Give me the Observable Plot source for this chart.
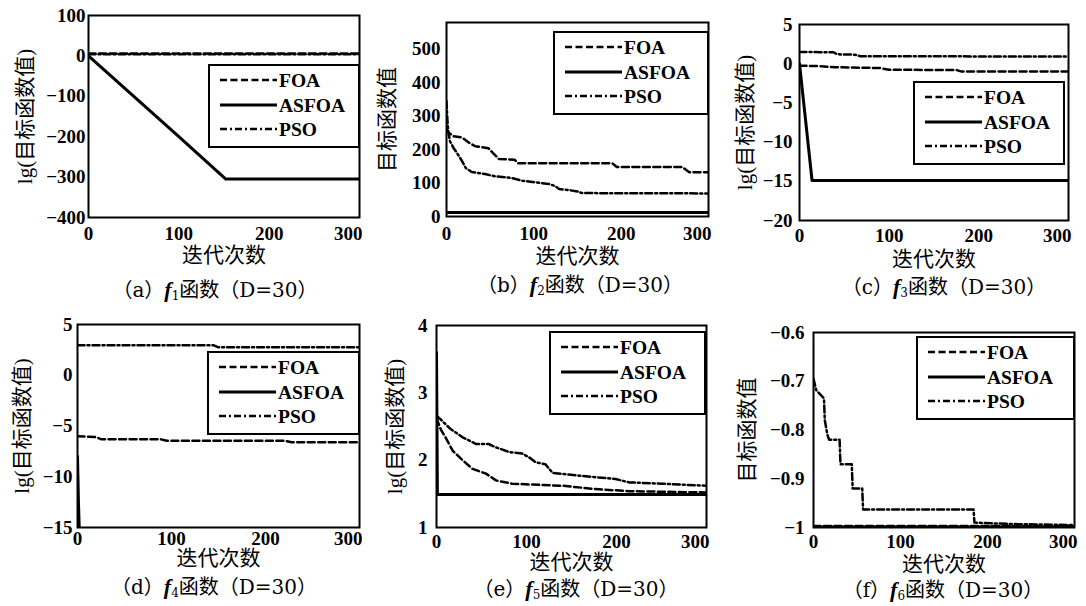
<!DOCTYPE html>
<html><head><meta charset="utf-8">
<script src="https://cdn.jsdelivr.net/npm/d3@7"></script>
<script src="https://cdn.jsdelivr.net/npm/@observablehq/plot@0.6"></script>
<style>
body{margin:0;background:#fff;}
#root{position:relative;width:1086px;height:606px;background:#fff;overflow:hidden;}
.panel{position:absolute;}
.cap{position:absolute;transform:translate(-50%,-50%);white-space:nowrap;font-family:"DejaVu Serif","Noto Sans CJK SC",serif;font-size:20px;color:#000;line-height:1;}
.cap i{font-family:"Liberation Serif",serif;font-style:italic;font-weight:bold;font-size:22px;}
.cap sub{font-size:12px;vertical-align:-3px;line-height:0;}
</style></head><body><div id="root"></div><script>
// ---- data (iteration, value) ----
const seriesNames = ["FOA", "ASFOA", "PSO"];
const iterTicks = [0, 100, 200];
const iterLastTick = [300];

const f1Ticks = [100, 0, -100, -200, -300, -400];
const f1_FOA = [[0, 6], [300, 6]];
const f1_ASFOA = [[0, 0], [100, -200], [152, -305], [300, -305]];
const f1_PSO = [[0, 4], [300, 4]];

const f2Ticks = [0, 100, 200, 300, 400, 500];
const f2_FOA = [[0, 262], [3, 250], [8, 240], [18, 236], [25, 222], [33, 210], [48, 204], [55, 185], [60, 172], [78, 170], [82, 159], [190, 159], [195, 148], [270, 148], [278, 132], [300, 132]];
const f2_ASFOA = [[0, 12], [300, 12]];
const f2_PSO = [[0, 345], [1, 290], [2, 255], [4, 225], [8, 205], [12, 190], [18, 165], [22, 145], [29, 133], [44, 127], [56, 120], [75, 115], [87, 107], [102, 102], [118, 97], [125, 90], [129, 82], [140, 79], [150, 75], [155, 70], [300, 69]];

const f3Ticks = [5, 0, -5, -10, -15, -20];
const f3_FOA = [[0, -0.25], [20, -0.3], [40, -0.45], [90, -0.55], [100, -0.78], [175, -0.8], [180, -0.98], [300, -1.0]];
const f3_ASFOA = [[0, 0], [14, -14.9], [300, -14.9]];
const f3_PSO = [[0, 1.5], [38, 1.45], [42, 1.2], [62, 1.15], [68, 0.95], [300, 0.92]];

const f4Ticks = [5, 0, -5, -10, -15];
const f4_FOA = [[0, -6.0], [20, -6.1], [25, -6.3], [88, -6.3], [95, -6.45], [220, -6.45], [228, -6.6], [300, -6.6]];
const f4_ASFOA = [[0, -8.0], [1, -12.5], [2, -15.5], [300, -15.5]];
const f4_PSO = [[0, 2.95], [145, 2.95], [150, 2.75], [300, 2.75]];

const f5Ticks = [4, 3, 2, 1];
const f5_FOA = [[0, 2.62], [5, 2.45], [10, 2.34], [18, 2.14], [29, 2.0], [40, 1.87], [55, 1.8], [66, 1.7], [84, 1.65], [140, 1.62], [177, 1.57], [214, 1.54], [300, 1.52]];
const f5_ASFOA = [[0, 3.6], [1, 1.49], [300, 1.49]];
const f5_PSO = [[0, 2.66], [5, 2.6], [15, 2.47], [29, 2.34], [44, 2.24], [58, 2.24], [66, 2.19], [81, 2.12], [95, 2.1], [103, 2.04], [110, 1.97], [121, 1.94], [129, 1.81], [158, 1.77], [199, 1.72], [214, 1.67], [251, 1.65], [300, 1.62]];

const f6Ticks = [-0.6, -0.7, -0.8, -0.9, -1];
const f6_FOA = [[0, -0.997], [300, -0.997]];
const f6_ASFOA = [[0, -0.999], [300, -0.999]];
const f6_PSO = [[0, -0.695], [3, -0.718], [12, -0.735], [13, -0.78], [16, -0.81], [18, -0.82], [30, -0.82], [31, -0.87], [44, -0.87], [45, -0.92], [56, -0.92], [57, -0.963], [184, -0.963], [185, -0.99], [230, -0.993], [300, -0.995]];

const lgLabel = "lg(目标函数值)";
const valLabel = "目标函数值";
const iterLabel = "迭代次数";

// ---- layout ----
const panels = [
  {id: "a", fn: "1", left: 0, top: 0, w: 362, h: 300, m: [15, 3, 83, 88], yDomain: [-400, 100], yTicks: f1Ticks, yLabel: lgLabel, data: [f1_FOA, f1_ASFOA, f1_PSO], lg: [121, 50, 150], yPad: 3, xPad: 9, ylabDx: 63, xlabDy: 38, cap: [215, 290]},
  {id: "b", fn: "2", left: 362, top: 0, w: 362, h: 300, m: [22, 16, 84, 84], yDomain: [0, 580], yTicks: f2Ticks, yLabel: valLabel, data: [f2_FOA, f2_ASFOA, f2_PSO], lg: [108, 10, 154], yPad: 6, xPad: 10, ylabDx: 59, xlabDy: 40, cap: [580, 285]},
  {id: "c", fn: "3", left: 724, top: 0, w: 362, h: 300, m: [24, 18, 80, 75], yDomain: [-20, 5], yTicks: f3Ticks, yLabel: lgLabel, data: [f3_FOA, f3_ASFOA, f3_PSO], lg: [115, 58, 150], yPad: 7, xPad: 8, ylabDx: 54, xlabDy: 39, cap: [944, 287]},
  {id: "d", fn: "4", left: 0, top: 300, w: 362, h: 306, m: [24, 3, 79, 77], yDomain: [-15, 5], yTicks: f4Ticks, yLabel: lgLabel, data: [f4_FOA, f4_ASFOA, f4_PSO], lg: [131, 28, 151], yPad: 5, xPad: 4, ylabDx: 55, xlabDy: 31, cap: [214, 587]},
  {id: "e", fn: "5", left: 362, top: 300, w: 362, h: 306, m: [25, 18, 79, 74], yDomain: [1, 4], yTicks: f5Ticks, yLabel: lgLabel, data: [f5_FOA, f5_ASFOA, f5_PSO], lg: [114, 7, 155], yPad: 9, xPad: 7, ylabDx: 41, xlabDy: 35, cap: [576, 589]},
  {id: "f", fn: "6", left: 724, top: 300, w: 362, h: 306, m: [32, 12, 79, 89], yDomain: [-1, -0.6], yTicks: f6Ticks, yLabel: valLabel, data: [f6_FOA, f6_ASFOA, f6_PSO], lg: [104, 5, 157], yPad: 9, xPad: 7, ylabDx: 66, xlabDy: 37, cap: [943, 590]}
];

const dashes = ["7,3.5", null, "7,3,2,3"];
const widths = [2.5, 3, 2.5];
const serif = "'Liberation Serif','Noto Sans CJK SC',serif";
const cjk = "'Liberation Serif','Noto Sans CJK SC',sans-serif";
const fmt = d => (d < 0 ? "\u2212" + Math.abs(d) : String(d));

function legendMark(p) {
  const [lx, ly, lw] = p.lg;
  const rows = [15, 40, 64];
  return () => {
    const g = d3.create("svg:g");
    const x0 = p.m[3] + lx, y0 = p.m[0] + ly;
    g.append("rect").attr("x", x0).attr("y", y0).attr("width", lw).attr("height", 82)
      .attr("fill", "white").attr("stroke", "black").attr("stroke-width", 2);
    seriesNames.forEach((name, i) => {
      const yy = y0 + rows[i];
      const ln = g.append("line").attr("x1", x0 + 11).attr("x2", x0 + 68).attr("y1", yy).attr("y2", yy)
        .attr("stroke", "black").attr("stroke-width", widths[i]);
      if (dashes[i]) ln.attr("stroke-dasharray", dashes[i]);
      g.append("text").attr("x", x0 + 70).attr("y", yy).attr("dy", "0.35em")
        .attr("text-anchor", "start")
        .attr("font-family", serif).attr("font-size", 19.5).attr("font-weight", "bold").text(name);
    });
    return g.node();
  };
}

const root = document.getElementById("root");
for (const p of panels) {
  const [mt, mr, mb, ml] = p.m;
  const marks = [];
  p.data.forEach((s, i) => {
    marks.push(Plot.line(s, {x: d => d[0], y: d => d[1], stroke: "black", strokeWidth: widths[i],
      strokeDasharray: dashes[i] || undefined, clip: true}));
  });
  marks.push(Plot.frame({stroke: "black", strokeWidth: 2}));
  marks.push(Plot.axisY(p.yTicks, {tickSize: 0, tickPadding: p.yPad, tickFormat: fmt, fontSize: 19, label: null}));
  marks.push(Plot.axisX(iterTicks, {tickSize: 0, tickPadding: p.xPad, tickFormat: fmt, fontSize: 19, label: null}));
  marks.push(Plot.axisX(iterLastTick, {tickSize: 0, tickPadding: p.xPad, tickFormat: fmt, fontSize: 19, textAnchor: "end", dx: 3, label: null}));
  marks.push(Plot.text([iterLabel], {text: d => d, frameAnchor: "bottom", lineAnchor: "middle", textAnchor: "middle", dy: p.xlabDy, fontSize: 21, fontFamily: cjk, fontWeight: "normal"}));
  marks.push(Plot.text([p.yLabel], {text: d => d, frameAnchor: "left", lineAnchor: "middle", textAnchor: "middle", dx: -p.ylabDx, rotate: -90, fontSize: 21, fontFamily: cjk, fontWeight: "normal"}));
  marks.push(legendMark(p));
  const chart = Plot.plot({
    width: p.w, height: p.h,
    marginTop: mt, marginRight: mr, marginBottom: mb, marginLeft: ml,
    x: {domain: [0, 300]},
    y: {domain: p.yDomain},
    style: {fontFamily: serif, fontSize: "19px", fontWeight: "bold", background: "white", color: "black", overflow: "visible"},
    marks
  });
  const div = document.createElement("div");
  div.className = "panel";
  div.style.left = p.left + "px";
  div.style.top = p.top + "px";
  div.appendChild(chart);
  root.appendChild(div);
}
for (const p of panels) {
  const c = document.createElement("div");
  c.className = "cap";
  c.style.left = p.cap[0] + "px";
  c.style.top = p.cap[1] + "px";
  c.innerHTML = "（" + p.id + "）<i>f</i><sub>" + p.fn + "</sub>函数（D=30）";
  root.appendChild(c);
}
</script></body></html>
